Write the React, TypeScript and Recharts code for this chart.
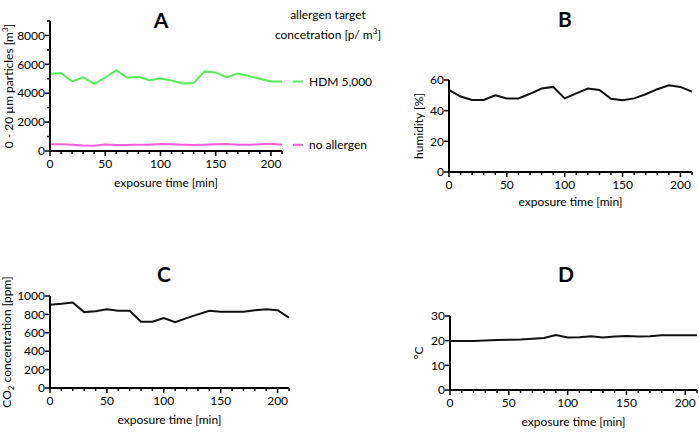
import { LineChart, Line, XAxis, YAxis, Label } from "recharts";

const FONT = "Lato, 'Open Sans', sans-serif";

// exposure time in minutes
const minutes = [0, 10, 20, 30, 40, 50, 60, 70, 80, 90, 100, 110, 120, 130, 140, 150, 160, 170, 180, 190, 200, 210];

// A: particles 0-20 µm per m3
const hdm5000 = [5350, 5400, 4820, 5100, 4650, 5070, 5600, 5070, 5140, 4900, 5020, 4880, 4670, 4700, 5510, 5440, 5090, 5370, 5190, 5000, 4810, 4810];
const noAllergen = [460, 460, 440, 380, 360, 450, 410, 410, 430, 430, 490, 460, 440, 410, 430, 460, 490, 440, 440, 460, 500, 430];

// B: humidity %
const humidity = [53.5, 49.2, 47, 47, 50, 48, 48, 51, 54.4, 55.5, 48, 51.3, 54.4, 53.5, 47.7, 46.8, 48, 50.7, 54, 56.5, 55.5, 52.4];

// C: CO2 ppm
const co2 = [905, 915, 930, 825, 835, 855, 840, 840, 720, 720, 760, 715, 760, 800, 840, 830, 830, 830, 845, 855, 845, 765];

// D: temperature °C
const temperature = [19.9, 19.9, 19.9, 20.1, 20.3, 20.4, 20.5, 20.8, 21.1, 22.3, 21.3, 21.4, 21.8, 21.3, 21.7, 21.9, 21.7, 21.8, 22.2, 22.2, 22.2, 22.2];

const xTicks = minutes;
const ticksA = [0, 1000, 2000, 3000, 4000, 5000, 6000, 7000, 8000, 9000];
const ticksB = [0, 20, 40, 60];
const ticksC = [0, 200, 400, 600, 800, 1000];
const ticksD = [0, 10, 20, 30];

const rows = minutes.map((t, i) => ({
  t,
  hdm: hdm5000[i],
  none: noAllergen[i],
  hum: humidity[i],
  co2: co2[i],
  temp: temperature[i],
}));

const axisLine = { stroke: "#000", strokeWidth: 2 };

function XTick({ x, y, payload }: any) {
  const major = payload.value % 50 === 0;
  return (
    <g>
      <line x1={x} x2={x} y1={y} y2={y + (major ? 5 : 3)} stroke="#000" strokeWidth={1.5} />
      {major && (
        <text x={x} y={y + 17} textAnchor="middle" fontSize={12} fill="#000" fontFamily={FONT}>
          {payload.value}
        </text>
      )}
    </g>
  );
}

const yTick = (labelStep: number) =>
  function YTick({ x, y, payload }: any) {
    const major = payload.value % labelStep === 0;
    return (
      <g>
        <line x1={x} x2={x - (major ? 5 : 3)} y1={y} y2={y} stroke="#000" strokeWidth={1.5} />
        {major && (
          <text x={x - 5} y={y} dy="0.35em" textAnchor="end" fontSize={12} fill="#000" fontFamily={FONT}>
            {payload.value}
          </text>
        )}
      </g>
    );
  };

const xTitle = (dy: number) => (p: any) => {
  const vb = p.viewBox;
  return (
    <text x={vb.x + vb.width / 2} y={vb.y + dy} textAnchor="middle" fontSize={12} fill="#000" fontFamily={FONT}>
      exposure time [min]
    </text>
  );
};

const yTitle = (x: number, children: any) => (p: any) => {
  const vb = p.viewBox;
  const cy = vb.y + vb.height / 2;
  return (
    <text
      x={x}
      y={cy}
      transform={`rotate(-90, ${x}, ${cy})`}
      textAnchor="middle"
      fontSize={12}
      fill="#000"
      fontFamily={FONT}
    >
      {children}
    </text>
  );
};

const endLabel = (text: string, color: string) => (p: any) => {
  if (p.index !== minutes.length - 1) return null;
  return (
    <g>
      <line x1={p.x + 11} x2={p.x + 21} y1={p.y} y2={p.y} stroke={color} strokeWidth={2} />
      <text x={p.x + 27} y={p.y} dy="0.35em" fontSize={12} fill="#000" fontFamily={FONT}>
        {text}
      </text>
    </g>
  );
};

export default function App() {
  return (
    <div style={{ position: "absolute", left: 0, top: 0, width: 699, height: 439, background: "#fff", fontFamily: FONT }}>
      {/* A */}
      <div style={{ position: "absolute", left: 0, top: 0 }}>
        <LineChart width={400} height={200} data={rows} margin={{ top: 21, right: 118, left: 0, bottom: 19 }}>
          <XAxis dataKey="t" type="number" domain={[0, 210]} ticks={xTicks} interval={0} height={30}
            tickSize={0} tickMargin={0} tickLine={false} axisLine={axisLine} tick={XTick}>
            <Label content={xTitle(36)} />
          </XAxis>
          <YAxis type="number" domain={[0, 9000]} ticks={ticksA} interval={0} width={50}
            tickSize={0} tickMargin={0} tickLine={false} axisLine={axisLine} tick={yTick(2000)}>
            <Label
              content={yTitle(13, [
                <tspan key="a">0 - 20 µm particles [m</tspan>,
                <tspan key="b" fontSize={8} dy={-5}>3</tspan>,
                <tspan key="c" dy={5}>]</tspan>,
              ])}
            />
          </YAxis>
          <Line dataKey="hdm" stroke="#55ee55" strokeWidth={2} dot={false} isAnimationActive={false}
            label={endLabel("HDM 5,000", "#55ee55")} />
          <Line dataKey="none" stroke="#f75ddc" strokeWidth={2} dot={false} isAnimationActive={false}
            label={endLabel("no allergen", "#f75ddc")} />
        </LineChart>
      </div>

      {/* B */}
      <div style={{ position: "absolute", left: 400, top: 0 }}>
        <LineChart width={299} height={220} data={rows} margin={{ top: 80, right: 7, left: 0, bottom: 18 }}>
          <XAxis dataKey="t" type="number" domain={[0, 210]} ticks={xTicks} interval={0} height={30}
            tickSize={0} tickMargin={0} tickLine={false} axisLine={axisLine} tick={XTick}>
            <Label content={xTitle(34)} />
          </XAxis>
          <YAxis type="number" domain={[0, 60]} ticks={ticksB} interval={0} width={49}
            tickSize={0} tickMargin={0} tickLine={false} axisLine={axisLine} tick={yTick(20)}>
            <Label content={yTitle(23, "humidity [%]")} />
          </YAxis>
          <Line dataKey="hum" stroke="#111" strokeWidth={2} dot={false} isAnimationActive={false} />
        </LineChart>
      </div>

      {/* C */}
      <div style={{ position: "absolute", left: 0, top: 220 }}>
        <LineChart width={350} height={219} data={rows} margin={{ top: 76, right: 61, left: 0, bottom: 21 }}>
          <XAxis dataKey="t" type="number" domain={[0, 210]} ticks={xTicks} interval={0} height={30}
            tickSize={0} tickMargin={0} tickLine={false} axisLine={axisLine} tick={XTick}>
            <Label content={xTitle(36)} />
          </XAxis>
          <YAxis type="number" domain={[0, 1000]} ticks={ticksC} interval={0} width={50}
            tickSize={0} tickMargin={0} tickLine={false} axisLine={axisLine} tick={yTick(200)}>
            <Label
              content={yTitle(11, [
                <tspan key="a">CO</tspan>,
                <tspan key="b" fontSize={8} dy={3}>2</tspan>,
                <tspan key="c" dy={-3}> concentration [ppm]</tspan>,
              ])}
            />
          </YAxis>
          <Line dataKey="co2" stroke="#111" strokeWidth={2} dot={false} isAnimationActive={false} />
        </LineChart>
      </div>

      {/* D */}
      <div style={{ position: "absolute", left: 350, top: 220 }}>
        <LineChart width={349} height={219} data={rows} margin={{ top: 96, right: 2, left: 50, bottom: 19 }}>
          <XAxis dataKey="t" type="number" domain={[0, 210]} ticks={xTicks} interval={0} height={30}
            tickSize={0} tickMargin={0} tickLine={false} axisLine={axisLine} tick={XTick}>
            <Label content={xTitle(36)} />
          </XAxis>
          <YAxis type="number" domain={[0, 30]} ticks={ticksD} interval={0} width={50}
            tickSize={0} tickMargin={0} tickLine={false} axisLine={axisLine} tick={yTick(10)}>
            <Label content={yTitle(73, "°C")} />
          </YAxis>
          <Line dataKey="temp" stroke="#111" strokeWidth={2} dot={false} isAnimationActive={false} />
        </LineChart>
      </div>

      {/* panel letters and legend header */}
      <svg width={699} height={439} style={{ position: "absolute", left: 0, top: 0, pointerEvents: "none" }}>
        <g fontFamily={FONT} fontWeight="bold" fontSize={21} textAnchor="middle" fill="#000">
          <text x={161} y={28}>A</text>
          <text x={565} y={27}>B</text>
          <text x={164} y={282}>C</text>
          <text x={566} y={282}>D</text>
        </g>
        <g fontFamily={FONT} fontSize={12} textAnchor="middle" fill="#000">
          <text x={328} y={19}>allergen target</text>
          <text x={328} y={39}>
            concetration [p/ m<tspan fontSize={8} dy={-5}>3</tspan>
            <tspan dy={5}>]</tspan>
          </text>
        </g>
      </svg>
    </div>
  );
}
